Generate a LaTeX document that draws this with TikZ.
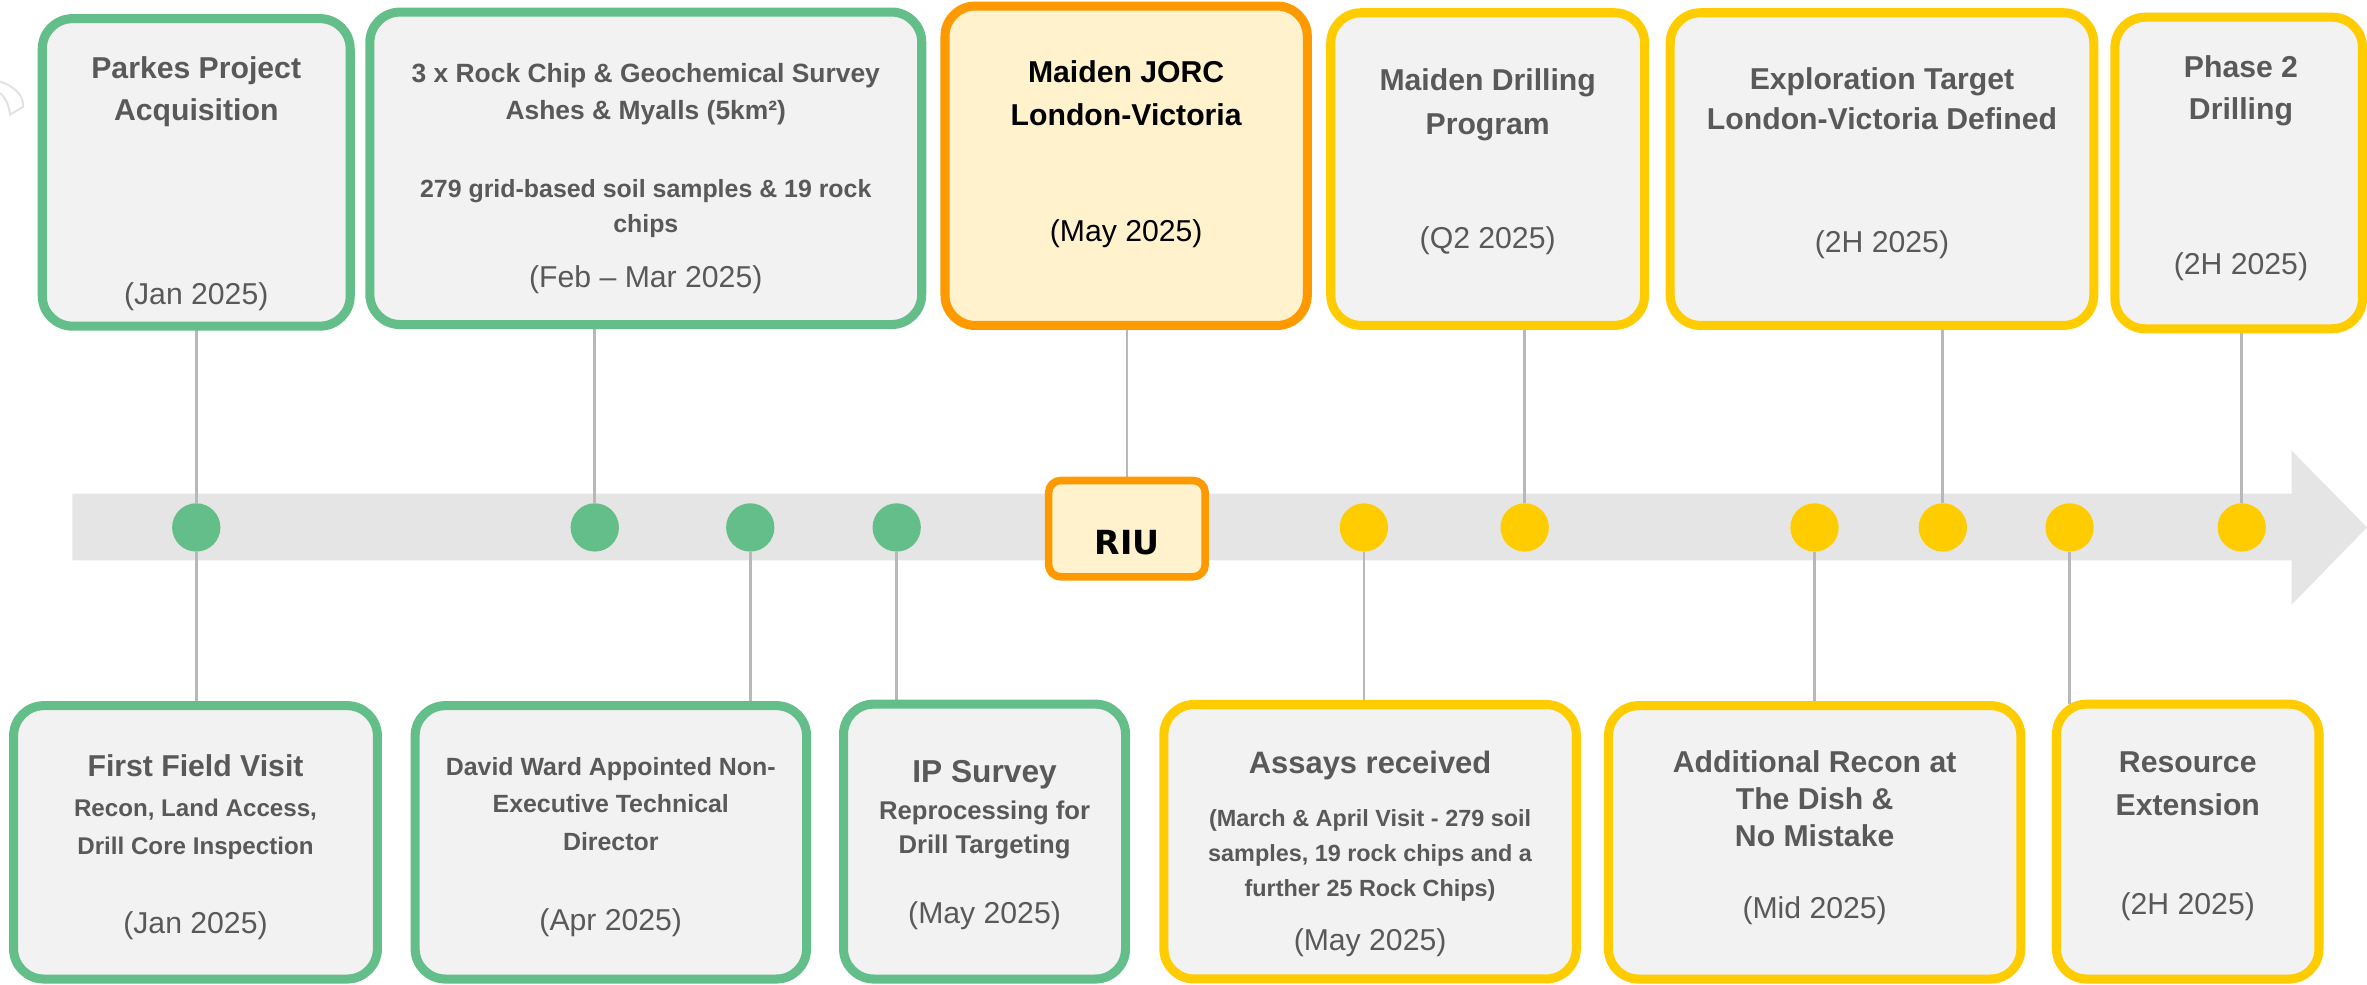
\documentclass[tikz,border=0pt]{standalone}
\usepackage{fontspec}
\setmainfont{Liberation Sans}
\newfontfamily\riufont{DejaVu Sans}
\usetikzlibrary{backgrounds}
\definecolor{grn}{HTML}{64BE8A}
\definecolor{ylw}{HTML}{FFCC00}
\definecolor{org}{HTML}{FF9900}
\definecolor{cardfill}{HTML}{F2F2F2}
\definecolor{orgfill}{HTML}{FFF2CC}
\definecolor{txt}{HTML}{595959}
\definecolor{bandc}{HTML}{E5E5E5}
\definecolor{connc}{HTML}{B8B8B8}
\definecolor{arcc}{HTML}{E2E2E2}
\newcommand{\myfs}[2]{\fontsize{#1}{#2}\selectfont}
\begin{document}
\begin{tikzpicture}[x=1pt,y=-1pt,
  card/.style={line width=6pt, rounded corners=20pt, fill=cardfill, inner sep=0pt, outer sep=0pt},
  gcard/.style={card, draw=grn},
  ycard/.style={card, draw=ylw},
  ocard/.style={card, draw=org, fill=orgfill},
  dot/.style={circle, inner sep=0pt, minimum size=32pt},
  gdot/.style={dot, fill=grn},
  ydot/.style={dot, fill=ylw},
  conn/.style={draw=connc, line width=1.8pt},
  ln/.style={inner sep=0pt, text=txt, text height={0.72*#1pt}, text depth=0pt, font=\myfs{#1}{#1}},
  bln/.style={ln=#1, font=\myfs{#1}{#1}\bfseries},
  dln/.style={inner sep=0pt, text=txt, text height={0.52*#1pt}, text depth=0pt, font=\myfs{#1}{#1}}
]
\useasboundingbox (0,0) rectangle (1568,652);

% ---- top cards
\node[gcard, minimum width=204pt, minimum height=203.7pt] (t1) at (130,114.2) {};
\node[gcard, minimum width=365.6pt, minimum height=207pt] (t2) at (427.8,111.5) {};
\node[ocard, minimum width=240pt, minimum height=211.6pt] (t3) at (746,109.8) {};
\node[ycard, minimum width=207.9pt, minimum height=207.1pt] (t4) at (985.5,112) {};
\node[ycard, minimum width=280.6pt, minimum height=207.1pt] (t5) at (1246.7,112) {};
\node[ycard, minimum width=164pt, minimum height=206.4pt] (t6) at (1483,114.6) {};

% ---- bottom cards
\node[gcard, minimum width=241pt, minimum height=181.1pt] (b1) at (129.5,558) {};
\node[gcard, minimum width=259.3pt, minimum height=181.1pt] (b2) at (404.65,558) {};
\node[gcard, minimum width=186.8pt, minimum height=182.1pt] (b3) at (652.2,557.5) {};
\node[ycard, minimum width=273.2pt, minimum height=181.8pt] (b4) at (907.6,557.6) {};
\node[ycard, minimum width=273.2pt, minimum height=181.1pt] (b5) at (1202.1,558) {};
\node[ycard, minimum width=173.9pt, minimum height=182.1pt] (b6) at (1449.25,557.5) {};

% ---- dots
\node[gdot] (d1) at (130,349.4) {};
\node[gdot] (d2) at (394,349.4) {};
\node[gdot] (d3) at (497,349.4) {};
\node[gdot] (d4) at (594,349.4) {};
\node[ydot] (d5) at (903.5,349.4) {};
\node[ydot] (d6) at (1010,349.4) {};
\node[ydot] (d7) at (1202,349.4) {};
\node[ydot] (d8) at (1287,349.4) {};
\node[ydot] (d9) at (1371,349.4) {};
\node[ydot] (d10) at (1485,349.4) {};

% ---- RIU
\node[draw=org, fill=orgfill, line width=5pt, rounded corners=8pt, inner sep=0pt, outer sep=0pt,
      minimum width=103.7pt, minimum height=63.8pt] (riu) at (746.5,350.2) {};
\node[inner sep=0pt, text height=16pt, text depth=0pt, font=\riufont\myfs{22}{22}\bfseries] (riut) at (746.5,359.3) {RIU};

% ---- background: band, connectors
\begin{scope}[on background layer]
  \draw[arcc, line width=1.3pt] (0,54) .. controls (9,57) and (16,63) .. (15.3,70.7) -- (6.6,76)
        .. controls (6,69) and (3,64) .. (0,61.6);
  \fill[bandc] (48,327) -- (1518,327) -- (1518,298.4) -- (1568,349.4) -- (1518,400.6)
        -- (1518,371.2) -- (48,371.2) -- cycle;
  \draw[conn] (t1.south -| d1) -- (d1);
  \draw[conn] (t2.south -| d2) -- (d2);
  \draw[conn] (t3.south -| riu) -- (riu);
  \draw[conn] (t4.south -| d6) -- (d6);
  \draw[conn] (t5.south -| d8) -- (d8);
  \draw[conn] (t6.south -| d10) -- (d10);
  \draw[conn] (d1) -- (d1 |- b1.north);
  \draw[conn] (d3) -- (d3 |- b2.north);
  \draw[conn] (d4) -- (d4 |- b3.north);
  \draw[conn] (d5) -- (d5 |- b4.north);
  \draw[conn] (d7) -- (d7 |- b5.north);
  \draw[conn] (d9) -- (d9 |- b6.north);
\end{scope}

% ---- top texts
\node[bln=20] (t1l1) at (130,45) {Parkes Project};
\node[bln=20] (t1l2) at (130,72.4) {Acquisition};
\node[dln=20] (t1d) at (130,196.5) {(Jan 2025)};

\node[bln=17.5] (t2l1) at (427.8,48.6) {3 x Rock Chip \& Geochemical Survey};
\node[bln=17.5] (t2l2) at (427.8,72.9) {Ashes \& Myalls (5km²)};
\node[bln=16.5] (t2l3) at (427.8,124.7) {279 grid-based soil samples \& 19 rock};
\node[bln=16.5] (t2l4) at (427.8,148.4) {chips};
\node[dln=20] (t2d) at (427.8,185) {(Feb \textendash{} Mar 2025)};

\node[bln=20, text=black] (t3l1) at (746,47.5) {Maiden JORC};
\node[bln=20, text=black] (t3l2) at (746,76.2) {London-Victoria};
\node[dln=20, text=black] (t3d) at (746,154.5) {(May 2025)};

\node[bln=20] (t4l1) at (985.5,53) {Maiden Drilling};
\node[bln=20] (t4l2) at (985.5,81.7) {Program};
\node[dln=20] (t4d) at (985.5,159.4) {(Q2 2025)};

\node[bln=20] (t5l1) at (1246.7,51.9) {Exploration Target};
\node[bln=20] (t5l2) at (1246.7,78.8) {London-Victoria Defined};
\node[dln=20] (t5d) at (1246.7,162.3) {(2H 2025)};

\node[bln=20] (t6l1) at (1484.5,44.2) {Phase 2};
\node[bln=20] (t6l2) at (1484.5,71.8) {Drilling};
\node[dln=20] (t6d) at (1484.5,176.7) {(2H 2025)};

% ---- bottom texts
\node[bln=20] (b1l1) at (129.5,507) {First Field Visit};
\node[bln=16] (b1l2) at (129.5,535) {Recon, Land Access,};
\node[bln=16] (b1l3) at (129.5,560) {Drill Core Inspection};
\node[dln=20] (b1d) at (129.5,613.3) {(Jan 2025)};

\node[bln=16.5] (b2l1) at (404.6,507.5) {David Ward Appointed Non-};
\node[bln=16.5] (b2l2) at (404.6,532.3) {Executive Technical};
\node[bln=16.5] (b2l3) at (404.6,557.6) {Director};
\node[dln=20] (b2d) at (404.6,611) {(Apr 2025)};

\node[bln=21] (b3l1) at (652.2,511) {IP Survey};
\node[bln=17] (b3l2) at (652.2,537) {Reprocessing for};
\node[bln=17] (b3l3) at (652.2,559.3) {Drill Targeting};
\node[dln=20] (b3d) at (652.2,606.4) {(May 2025)};

\node[bln=20.5] (b4l1) at (907.6,505.2) {Assays received};
\node[bln=15.5] (b4l2) at (907.6,542) {(March \& April Visit - 279 soil};
\node[bln=15.5] (b4l3) at (907.6,565.4) {samples, 19 rock chips and a};
\node[bln=15.5] (b4l4) at (907.6,588.4) {further 25 Rock Chips)};
\node[dln=20] (b4d) at (907.6,624.7) {(May 2025)};

\node[bln=20] (b5l1) at (1202.1,504.8) {Additional Recon at};
\node[bln=20] (b5l2) at (1202.1,529.3) {The Dish \&};
\node[bln=20] (b5l3) at (1202.1,553.5) {No Mistake};
\node[dln=20] (b5d) at (1202.1,603) {(Mid 2025)};

\node[bln=20] (b6l1) at (1449.25,504.8) {Resource};
\node[bln=20] (b6l2) at (1449.25,532.8) {Extension};
\node[dln=20] (b6d) at (1449.25,600.6) {(2H 2025)};
\end{tikzpicture}
\end{document}
